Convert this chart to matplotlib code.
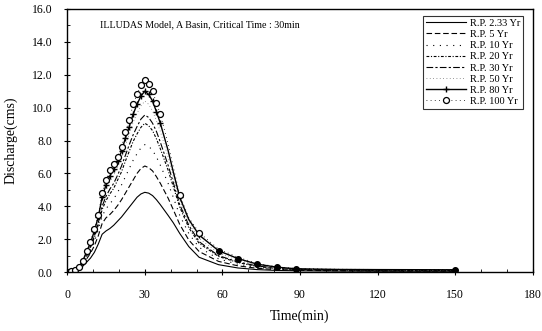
import matplotlib
matplotlib.use('Agg')
import matplotlib.pyplot as plt
import matplotlib.ticker as mticker

plt.rcParams['font.family'] = ['Liberation Serif', 'DejaVu Serif']

# temps (min)
time = [0, 1.5, 3, 4.5, 6, 7.5, 9, 10.5, 12, 13.5, 15, 16.5, 18, 19.5, 21, 22.5,
        24, 25.5, 27, 28.5, 30, 31.5, 33, 34.5, 36, 39, 41, 43.5, 47, 51, 58.5,
        66, 73.5, 81, 88.5, 105, 120, 150]

q_2_33 = [0, 0.02, 0.05, 0.15, 0.35, 0.6, 0.85, 1.2, 1.7, 2.3, 2.5, 2.65, 2.85, 3.1,
          3.35, 3.65, 3.95, 4.25, 4.55, 4.75, 4.85, 4.8, 4.65, 4.4, 4.1, 3.45, 3.0,
          2.35, 1.55, 0.9, 0.45, 0.25, 0.15, 0.1, 0.08, 0.06, 0.05, 0.05]
q_5 = [0, 0.03, 0.07, 0.2, 0.45, 0.8, 1.15, 1.6, 2.2, 2.95, 3.3, 3.5, 3.75, 4.05,
       4.4, 4.8, 5.2, 5.6, 6.0, 6.3, 6.45, 6.35, 6.15, 5.8, 5.4, 4.5, 3.8, 2.9, 1.95,
       1.25, 0.65, 0.38, 0.23, 0.15, 0.11, 0.08, 0.07, 0.06]
q_10 = [0, 0.03, 0.08, 0.23, 0.52, 0.95, 1.35, 1.85, 2.55, 3.4, 3.85, 4.15, 4.45,
        4.85, 5.3, 5.8, 6.3, 6.8, 7.2, 7.55, 7.75, 7.65, 7.4, 7.0, 6.5, 5.4, 4.55,
        3.45, 2.35, 1.5, 0.8, 0.48, 0.28, 0.18, 0.13, 0.1, 0.08, 0.07]
q_20 = [0, 0.04, 0.08, 0.25, 0.57, 1.05, 1.5, 2.1, 2.85, 3.8, 4.35, 4.75, 5.1, 5.6,
        6.1, 6.75, 7.35, 7.95, 8.4, 8.8, 9.05, 8.9, 8.6, 8.1, 7.5, 6.2, 5.2, 3.95,
        2.7, 1.75, 0.95, 0.58, 0.34, 0.22, 0.16, 0.12, 0.1, 0.09]
q_30 = [0, 0.04, 0.09, 0.26, 0.6, 1.1, 1.58, 2.2, 3.0, 4.0, 4.6, 5.05, 5.4, 5.9,
        6.45, 7.1, 7.75, 8.35, 8.85, 9.3, 9.55, 9.4, 9.05, 8.55, 7.9, 6.5, 5.45,
        4.1, 2.85, 1.85, 1.0, 0.62, 0.37, 0.24, 0.17, 0.13, 0.11, 0.1]
q_50 = [0, 0.04, 0.09, 0.28, 0.64, 1.2, 1.7, 2.38, 3.2, 4.3, 4.95, 5.5, 5.9, 6.4,
        7.0, 7.7, 8.4, 9.1, 9.65, 10.1, 10.4, 10.2, 9.8, 9.2, 8.55, 7.0, 5.8, 4.35,
        3.05, 2.05, 1.15, 0.72, 0.43, 0.27, 0.19, 0.15, 0.13, 0.12]
q_80 = [0, 0.05, 0.1, 0.29, 0.67, 1.25, 1.78, 2.5, 3.35, 4.55, 5.3, 5.85, 6.25,
        6.75, 7.35, 8.15, 8.85, 9.6, 10.2, 10.7, 11.0, 10.8, 10.4, 9.75, 9.05, 7.4,
        6.1, 4.55, 3.2, 2.25, 1.3, 0.82, 0.48, 0.3, 0.2, 0.16, 0.15, 0.14]
q_100 = [0, 0.05, 0.1, 0.3, 0.7, 1.3, 1.85, 2.6, 3.45, 4.8, 5.6, 6.2, 6.55, 7.0,
         7.6, 8.5, 9.25, 10.2, 10.8, 11.35, 11.7, 11.45, 11.0, 10.3, 9.6, 7.8, 6.4,
         4.7, 3.3, 2.4, 1.4, 0.9, 0.53, 0.32, 0.22, 0.17, 0.16, 0.15]

labels = ['R.P. 2.33 Yr', 'R.P. 5 Yr', 'R.P. 10 Yr', 'R.P. 20 Yr',
          'R.P. 30 Yr', 'R.P. 50 Yr', 'R.P. 80 Yr', 'R.P. 100 Yr']

# points avec marqueurs
marks = list(range(0, 25)) + [27] + list(range(29, 35)) + [37]
tail = list(range(30, 35)) + [37]

fig = plt.figure(figsize=(5.42, 3.31), dpi=100)
ax = fig.add_axes([0.124, 0.178, 0.859, 0.795])

ax.plot(time, q_2_33, color='black', lw=0.8, label=labels[0])
ax.plot(time, q_5, color='black', lw=0.8, ls=(0, (5, 2.5)), label=labels[1])
ax.plot(time, q_10, color='black', lw=0.8, ls=(0, (1, 5)), label=labels[2])
ax.plot(time, q_20, color='black', lw=0.8, ls=(0, (2.5, 1.5, 1, 1.5)), label=labels[3])
ax.plot(time, q_30, color='black', lw=0.8, ls=(0, (6, 2, 2, 2)), label=labels[4])
ax.plot(time, q_50, color='#777777', lw=0.6, ls=(0, (1, 3)), label=labels[5])
ax.plot(time, q_80, color='black', lw=1.0, marker='+', ms=5, mew=1.0,
        markevery=marks, label=labels[6])
# sur la décrue les marqueurs se superposent -> points pleins
ax.plot(time, q_80, ls='none', marker='o', ms=4, color='black', markevery=tail)
ax.plot(time, q_100, color='black', lw=0.6, ls=(0, (1, 4)), marker='o', ms=4.3,
        mfc='white', mec='black', mew=0.9, markevery=marks[:26] + [29],
        label=labels[7])

ax.set_xlim(0, 180)
ax.set_ylim(0, 16)
ax.xaxis.set_major_locator(mticker.MultipleLocator(30))
ax.xaxis.set_minor_locator(mticker.MultipleLocator(10))
ax.yaxis.set_major_locator(mticker.MultipleLocator(2))
ax.yaxis.set_minor_locator(mticker.MultipleLocator(1))
ax.yaxis.set_major_formatter(mticker.StrMethodFormatter('{x:.1f}'))
ax.tick_params(which='major', direction='inout', length=5, labelsize=8.5, width=0.8)
ax.tick_params(which='minor', direction='in', length=2.5, width=0.6)
ax.tick_params(axis='x', pad=10)
ax.tick_params(axis='y', pad=8)

ax.set_xlabel('Time(min)', fontsize=10, labelpad=6)
ax.set_ylabel('Discharge(cms)', fontsize=10, labelpad=10)

ax.text(0.071, 0.94, 'ILLUDAS Model, A Basin, Critical Time : 30min',
        transform=ax.transAxes, fontsize=7.2, va='center')

leg = ax.legend(loc='upper right', fontsize=7.5, frameon=True, fancybox=False,
                edgecolor='black', handlelength=3.8, borderpad=0.3,
                labelspacing=0.18, handletextpad=0.4, borderaxespad=0,
                bbox_to_anchor=(0.98, 0.975))
leg.get_frame().set_linewidth(0.8)

for s in ax.spines.values():
    s.set_linewidth(1.0)

fig.savefig('out.png', dpi=100)
